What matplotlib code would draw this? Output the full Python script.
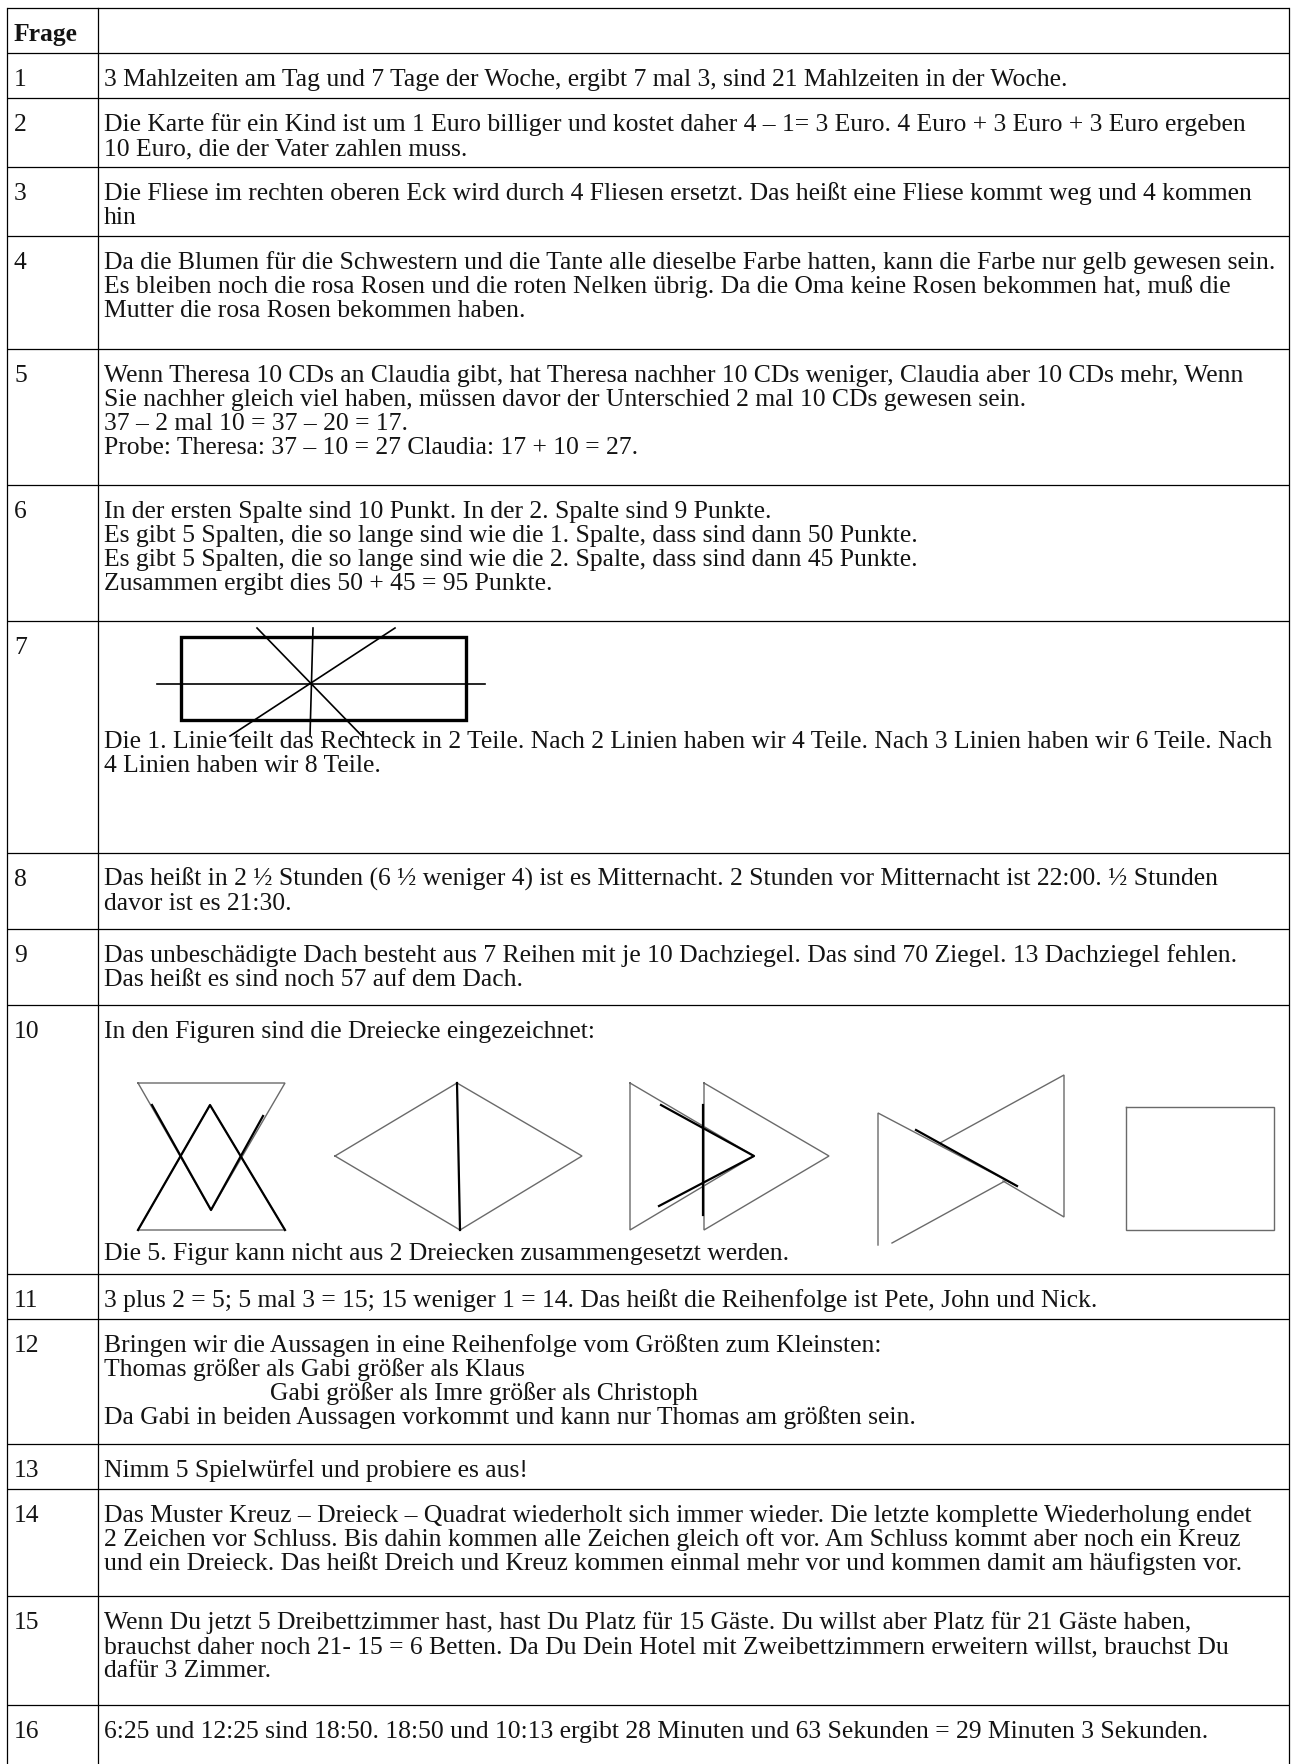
import matplotlib.pyplot as plt
from matplotlib.patches import Rectangle

W, H = 1297, 1765

labels = ["Frage", "1", "2", "3", "4", "5", "6", "7", "8", "9", "10",
          "11", "12", "13", "14", "15", "16"]

answers = [
    [""],
    ["3 Mahlzeiten am Tag und 7 Tage der Woche, ergibt 7 mal 3, sind 21 Mahlzeiten in der Woche."],
    ["Die Karte für ein Kind ist um 1 Euro billiger und kostet daher 4 – 1= 3 Euro. 4 Euro + 3 Euro + 3 Euro ergeben",
     "10 Euro, die der Vater zahlen muss."],
    ["Die Fliese im rechten oberen Eck wird durch 4 Fliesen ersetzt. Das heißt eine Fliese kommt weg und 4 kommen",
     "hin"],
    ["Da die Blumen für die Schwestern und die Tante alle dieselbe Farbe hatten, kann die Farbe nur gelb gewesen sein.",
     "Es bleiben noch die rosa Rosen und die roten Nelken übrig. Da die Oma keine Rosen bekommen hat, muß die",
     "Mutter die rosa Rosen bekommen haben."],
    ["Wenn Theresa 10 CDs an Claudia gibt, hat Theresa nachher 10 CDs weniger, Claudia aber 10 CDs mehr, Wenn",
     "Sie nachher gleich viel haben, müssen davor der Unterschied 2 mal 10 CDs gewesen sein.",
     "37 – 2 mal 10 = 37 – 20 = 17.",
     "Probe: Theresa: 37 – 10 = 27 Claudia: 17 + 10 = 27."],
    ["In der ersten Spalte sind 10 Punkt. In der 2. Spalte sind 9 Punkte.",
     "Es gibt 5 Spalten, die so lange sind wie die 1. Spalte, dass sind dann 50 Punkte.",
     "Es gibt 5 Spalten, die so lange sind wie die 2. Spalte, dass sind dann 45 Punkte.",
     "Zusammen ergibt dies 50 + 45 = 95 Punkte."],
    ["Die 1. Linie teilt das Rechteck in 2 Teile. Nach 2 Linien haben wir 4 Teile. Nach 3 Linien haben wir 6 Teile. Nach",
     "4 Linien haben wir 8 Teile."],
    ["Das heißt in 2 ½ Stunden (6 ½ weniger 4) ist es Mitternacht. 2 Stunden vor Mitternacht ist 22:00. ½ Stunden",
     "davor ist es 21:30."],
    ["Das unbeschädigte Dach besteht aus 7 Reihen mit je 10 Dachziegel. Das sind 70 Ziegel. 13 Dachziegel fehlen.",
     "Das heißt es sind noch 57 auf dem Dach."],
    ["In den Figuren sind die Dreiecke eingezeichnet:",
     "Die 5. Figur kann nicht aus 2 Dreiecken zusammengesetzt werden."],
    ["3 plus 2 = 5; 5 mal 3 = 15; 15 weniger 1 = 14. Das heißt die Reihenfolge ist Pete, John und Nick."],
    ["Bringen wir die Aussagen in eine Reihenfolge vom Größten zum Kleinsten:",
     "Thomas größer als Gabi größer als Klaus",
     "Gabi größer als Imre größer als Christoph",
     "Da Gabi in beiden Aussagen vorkommt und kann nur Thomas am größten sein."],
    ["Nimm 5 Spielwürfel und probiere es aus!"],
    ["Das Muster Kreuz – Dreieck – Quadrat wiederholt sich immer wieder. Die letzte komplette Wiederholung endet",
     "2 Zeichen vor Schluss. Bis dahin kommen alle Zeichen gleich oft vor. Am Schluss kommt aber noch ein Kreuz",
     "und ein Dreieck. Das heißt Dreich und Kreuz kommen einmal mehr vor und kommen damit am häufigsten vor."],
    ["Wenn Du jetzt 5 Dreibettzimmer hast, hast Du Platz für 15 Gäste. Du willst aber Platz für 21 Gäste haben,",
     "brauchst daher noch 21- 15 = 6 Betten. Da Du Dein Hotel mit Zweibettzimmern erweitern willst, brauchst Du",
     "dafür 3 Zimmer."],
    ["6:25 und 12:25 sind 18:50. 18:50 und 10:13 ergibt 28 Minuten und 63 Sekunden = 29 Minuten 3 Sekunden."],
]

# extra empty space at the foot of some cells (paragraph spacing in the original)
row_extra = [0, 0, 0, 0, 20, 19, 19, 0, 7, 7, 0, 0, 8, 0, 14, 16, 0]

# sketch in row 7: rectangle + four lines through the centre (x absolute, y from row top)
rect7 = (181, 16, 285, 83)
lines7 = [
    [(157, 63), (485, 63)],
    [(313, 7), (310, 115)],
    [(257, 7), (362, 115)],
    [(395, 7), (230, 115)],
]

# sketches in row 10 (x absolute, y from row top); gray outlines, black triangles
gray10 = [
    [(138, 78), (285, 78), (211, 205), (138, 78)],
    [(138, 225), (285, 225), (210, 100), (138, 225)],
    [(335, 151), (457, 78), (582, 151), (460, 225), (335, 151)],
    [(630, 78), (630, 225), (754, 151), (630, 78)],
    [(704, 78), (704, 225), (829, 151), (704, 78)],
    [(878, 240), (878, 108), (1017, 181)],
    [(892, 238), (1005, 176)],
    [(940, 138), (1064, 70), (1064, 212), (1003, 176)],
    [(1126, 102), (1274, 102), (1274, 225), (1126, 225), (1126, 102)],
]
black10 = [
    [(138, 225), (210, 100), (285, 225)],
    [(152, 100), (211, 205), (263, 111)],
    [(457, 78), (460, 225)],
    [(661, 100), (754, 151), (659, 201)],
    [(703, 100), (703, 210)],
    [(916, 125), (1017, 181)],
]

plt.rcParams['font.family'] = ['Liberation Serif', 'DejaVu Serif']
ink = '#141414'

fig = plt.figure(figsize=(W / 100, H / 100), dpi=100)
ax = fig.add_axes([0, 0, 1, 1])
ax.set_xlim(0, W)
ax.set_ylim(H, 0)
ax.axis('off')

x_left, x_div, x_right = 7, 98, 1289
x_label, x_text = 14, 104
y_top = 9
line_h = 24
row_h1 = 45
base_off = 32
indent12 = 166

# fit the font so the widest answer line reaches the right border, as in the picture
renderer = fig.canvas.get_renderer()
widest = 0
for rows in answers:
    for s in rows:
        t = ax.text(0, 0, s, fontsize=17)
        widest = max(widest, t.get_window_extent(renderer).width)
        t.remove()
fs = 17 * 1170 / widest

heights = [row_h1 + line_h * (len(a) - 1) + e for a, e in zip(answers, row_extra)]
heights[7] = 232
heights[10] = 269
# last row runs off the bottom of the page
heights[16] = 0
heights[16] = H + 20 - y_top - sum(heights)

tops = [y_top]
for h in heights:
    tops.append(tops[-1] + h)

# grid
for y in tops:
    ax.plot([x_left, x_right], [y, y], color='black', lw=0.9, solid_capstyle='butt')
for x in (x_left, x_div, x_right):
    ax.plot([x, x], [tops[0], tops[-1]], color='black', lw=0.9)

for i, (lab, rows) in enumerate(zip(labels, answers)):
    top = tops[i]
    ax.text(x_label, top + base_off, lab, fontsize=fs, color=ink, va='baseline',
            fontweight='bold' if i == 0 else 'normal')
    if i == 7:
        offs = [base_off + 94 + line_h * k for k in range(len(rows))]
    elif i == 10:
        offs = [base_off, heights[i] - row_h1 + base_off - 2]
    else:
        offs = [base_off + line_h * k for k in range(len(rows))]
    for k, (s, off) in enumerate(zip(rows, offs)):
        x = x_text + indent12 if (i == 12 and k == 2) else x_text
        ax.text(x, top + off, s, fontsize=fs, color=ink, va='baseline')

# row 7 sketch
t7 = tops[7]
ax.add_patch(Rectangle((rect7[0], t7 + rect7[1]), rect7[2], rect7[3],
                       fill=False, ec='black', lw=2.4))
for seg in lines7:
    ax.plot([p[0] for p in seg], [t7 + p[1] for p in seg], color='black', lw=1.2)

# row 10 sketches
t10 = tops[10]
for seg in gray10:
    ax.plot([p[0] for p in seg], [t10 + p[1] for p in seg], color='#6a6a6a', lw=1.0,
            solid_joinstyle='miter')
for seg in black10:
    ax.plot([p[0] for p in seg], [t10 + p[1] for p in seg], color='black', lw=1.6)

fig.savefig('out.png', dpi=100, facecolor='white')
